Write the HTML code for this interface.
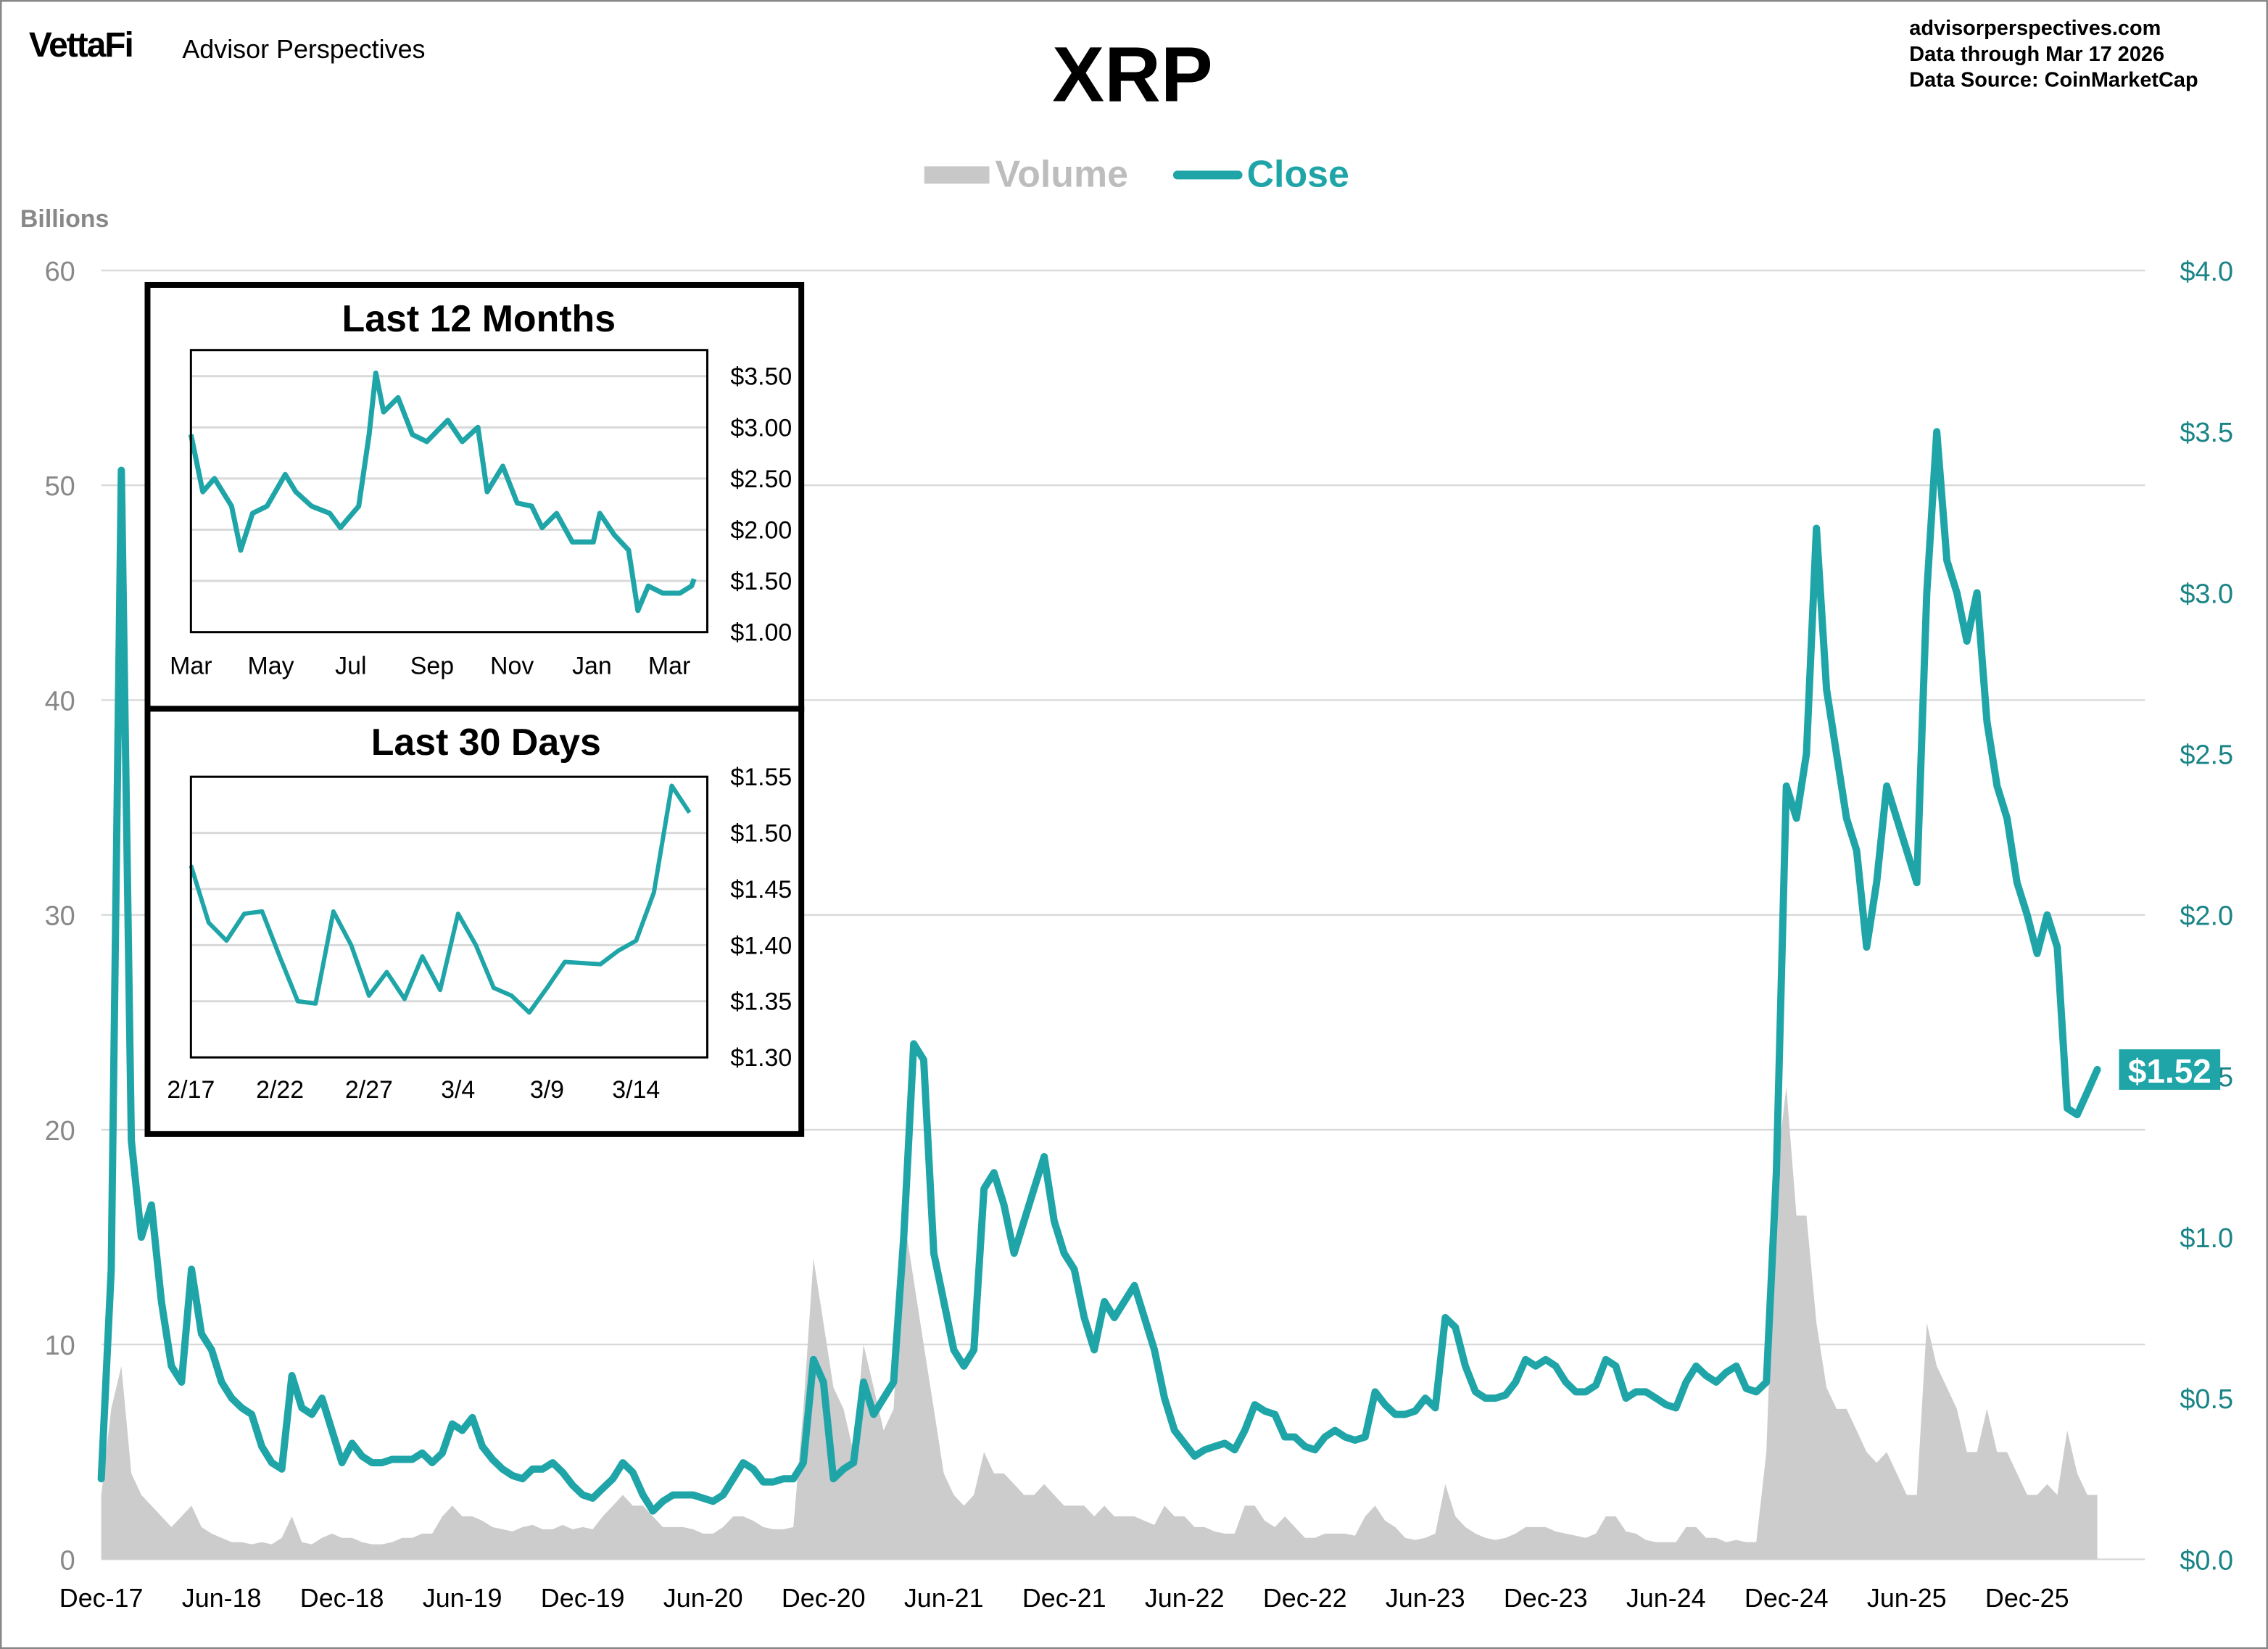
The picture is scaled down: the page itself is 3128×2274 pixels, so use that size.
<!DOCTYPE html>
<html><head><meta charset="utf-8"><style>
html,body{margin:0;padding:0;background:#fff}
svg{display:block;font-family:"Liberation Sans",Arial,sans-serif}
</style></head><body>
<svg id="chart" width="3128" height="2274" viewBox="0 0 1568 1140" preserveAspectRatio="none" xmlns="http://www.w3.org/2000/svg">
<rect x="0.5" y="0.5" width="1567" height="1139" fill="#fff" stroke="#888" stroke-width="1.5"/>
<g>
<text x="20" y="39" font-size="24" font-weight="bold" letter-spacing="-1">VettaFi</text>
<text x="126" y="40" font-size="18">Advisor Perspectives</text>
<text x="783" y="70" font-size="54" font-weight="bold" text-anchor="middle">XRP</text>
<text x="1320" y="24" font-size="14.5" font-weight="bold">advisorperspectives.com</text>
<text x="1320" y="42" font-size="14.5" font-weight="bold">Data through  Mar 17 2026</text>
<text x="1320" y="60" font-size="14.5" font-weight="bold">Data Source:  CoinMarketCap</text>
</g>
<g>
<rect x="639" y="115" width="45" height="12" fill="#c8c8c8"/>
<text x="688" y="129" font-size="26" font-weight="bold" fill="#bdbdbd">Volume</text>
<line x1="814" y1="121" x2="856" y2="121" stroke="#1fa5a8" stroke-width="6" stroke-linecap="round"/>
<text x="862" y="129" font-size="26" font-weight="bold" fill="#1fa5a8">Close</text>
</g>
<text x="14" y="157" font-size="17" font-weight="bold" fill="#888">Billions</text>
<g id="grid"></g><g id="vol"></g><g id="price"></g><g id="axes"></g><g id="insets"></g>
</svg>
<script>
const NS="http://www.w3.org/2000/svg";
const closeHalfMonth=[0.25,0.9,3.38,1.3,1.0,1.1,0.8,0.6,0.55,0.9,0.7,0.65,0.55,0.5,0.47,0.45,0.35,0.3,0.28,0.57,0.47,0.45,0.5,0.4,
0.3,0.36,0.32,0.3,0.3,0.31,0.31,0.31,0.33,0.3,0.33,0.42,0.4,0.44,0.35,0.31,0.28,0.26,0.25,0.28,0.28,0.3,0.27,0.23,
0.2,0.19,0.22,0.25,0.3,0.27,0.2,0.15,0.18,0.2,0.2,0.2,0.19,0.18,0.2,0.25,0.3,0.28,0.24,0.24,0.25,0.25,0.3,0.62,
0.55,0.25,0.28,0.3,0.55,0.45,0.5,0.55,1.0,1.6,1.55,0.95,0.8,0.65,0.6,0.65,1.15,1.2,1.1,0.95,1.05,1.15,1.25,1.05,
0.95,0.9,0.75,0.65,0.8,0.75,0.8,0.85,0.75,0.65,0.5,0.4,0.36,0.32,0.34,0.35,0.36,0.34,0.4,0.48,0.46,0.45,0.38,0.38,
0.35,0.34,0.38,0.4,0.38,0.37,0.38,0.52,0.48,0.45,0.45,0.46,0.5,0.47,0.75,0.72,0.6,0.52,0.5,0.5,0.51,0.55,0.62,0.6,
0.62,0.6,0.55,0.52,0.52,0.54,0.62,0.6,0.5,0.52,0.52,0.5,0.48,0.47,0.55,0.6,0.57,0.55,0.58,0.6,0.53,0.52,0.55,1.2,
2.4,2.3,2.5,3.2,2.7,2.5,2.3,2.2,1.9,2.1,2.4,2.3,2.2,2.1,3.0,3.5,3.1,3.0,2.85,3.0,2.6,2.4,2.3,2.1,
2.0,1.88,2.0,1.9,1.4,1.38,1.45,1.52];
const volumeHalfMonth=[3,7,9,4,3,2.5,2,1.5,2,2.5,1.5,1.2,1,0.8,0.8,0.7,0.8,0.7,1,2,0.8,0.7,1,1.2,
1,1,0.8,0.7,0.7,0.8,1,1,1.2,1.2,2,2.5,2,2,1.8,1.5,1.4,1.3,1.5,1.6,1.4,1.4,1.6,1.4,
1.5,1.4,2,2.5,3,2.5,2.5,2,1.5,1.5,1.5,1.4,1.2,1.2,1.5,2,2,1.8,1.5,1.4,1.4,1.5,7,14,
11,8,7,5,10,8,6,7,16,13,10,7,4,3,2.5,3,5,4,4,3.5,3,3,3.5,3,
2.5,2.5,2.5,2,2.5,2,2,2,1.8,1.6,2.5,2,2,1.5,1.5,1.3,1.2,1.2,2.5,2.5,1.8,1.5,2,1.5,
1,1,1.2,1.2,1.2,1.1,2,2.5,1.8,1.5,1,0.9,1,1.2,3.5,2,1.5,1.2,1,0.9,1,1.2,1.5,1.5,
1.5,1.3,1.2,1.1,1,1.2,2,2,1.3,1.2,0.9,0.8,0.8,0.8,1.5,1.5,1,1,0.8,0.9,0.8,0.8,5,18,
22,16,16,11,8,7,7,6,5,4.5,5,4,3,3,11,9,8,7,5,5,7,5,5,4,
3,3,3.5,3,6,4,3,3];
const leftTicks=[0,10,20,30,40,50,60];
const rightTicks=["$0.0","$0.5","$1.0","$1.5","$2.0","$2.5","$3.0","$3.5","$4.0"];
const rightTickValues=[0,0.5,1,1.5,2,2.5,3,3.5,4];
const xLabels=["Dec-17","Jun-18","Dec-18","Jun-19","Dec-19","Jun-20","Dec-20","Jun-21","Dec-21","Jun-22","Dec-22","Jun-23","Dec-23","Jun-24","Dec-24","Jun-25","Dec-25"];
const lastClose="$1.52";
const yearCloseDays=[0,9,18,31,38,47,58,72,80,92,106,114,128,136,141,147,158,169,180,196,207,219,226,238,249,260,268,279,291,307,312,323,334,341,349,360,373,382,384];
const yearCloseValues=[2.93,2.37,2.5,2.23,1.8,2.16,2.23,2.54,2.37,2.23,2.16,2.02,2.23,2.93,3.53,3.15,3.29,2.93,2.86,3.07,2.86,3.0,2.37,2.62,2.26,2.23,2.02,2.16,1.88,1.88,2.16,1.95,1.8,1.21,1.45,1.38,1.38,1.45,1.52];
const yearTicks=["$1.00","$1.50","$2.00","$2.50","$3.00","$3.50"];
const yearTickValues=[1,1.5,2,2.5,3,3.5];
const yearLabels=["Mar","May","Jul","Sep","Nov","Jan","Mar"];
const yearLabelDays=[0,61,122,184,245,306,365];
const monthCloseValues=[1.471,1.42,1.404,1.428,1.43,1.389,1.35,1.348,1.43,1.40,1.355,1.376,1.352,1.39,1.36,1.428,1.40,1.362,1.355,1.34,1.362,1.385,1.384,1.383,1.395,1.404,1.447,1.542,1.518];
const monthTicks=["$1.30","$1.35","$1.40","$1.45","$1.50","$1.55"];
const monthTickValues=[1.30,1.35,1.40,1.45,1.50,1.55];
const monthLabels=["2/17","2/22","2/27","3/4","3/9","3/14"];
const monthLabelDays=[0,5,10,15,20,25];

function el(tag,attrs,parent){const e=document.createElementNS(NS,tag);for(const k in attrs)e.setAttribute(k,attrs[k]);parent.appendChild(e);return e;}
const X0=70,X1=1450,Y0=1078,Y1=187;
const xS=i=>X0+i*(X1-X0)/(closeHalfMonth.length-1);
const yV=v=>Y0-v*(Y0-Y1)/60;
const yP=p=>Y0-p*(Y0-Y1)/4;
const grid=document.getElementById('grid'),axes=document.getElementById('axes');
leftTicks.forEach((t)=>{
  const l=el('line',{x1:70,x2:1483,y1:yV(t),y2:yV(t),stroke:'#d9d9d9','stroke-width':1.2},grid);
  
  
  const tx=el('text',{x:52,y:yV(t)+7,'font-size':19,fill:'#888','text-anchor':'end'},axes);tx.textContent=t;
  
  
});
rightTickValues.forEach((v,i)=>{
  const tx=el('text',{x:1544,y:yP(v)+7,'font-size':19,fill:'#1a8486','text-anchor':'end'},axes);tx.textContent=rightTicks[i];
  
  
});
xLabels.forEach((lab,i)=>{
  const tx=el('text',{x:xS(i*12),y:1111,'font-size':18,'text-anchor':'middle'},axes);tx.textContent=lab;
  
  
});
let vd='M'+xS(0)+','+Y0;
volumeHalfMonth.forEach((v,i)=>{vd+=' L'+xS(i).toFixed(1)+','+yV(v).toFixed(1);});
vd+=' L'+xS(volumeHalfMonth.length-1)+','+Y0+' Z';
const va=el('path',{d:vd,fill:'#cccccc'},document.getElementById('vol'));


let pd='';closeHalfMonth.forEach((p,i)=>{pd+=(i?' L':'M')+xS(i).toFixed(1)+','+yP(p).toFixed(1);});
const pl=el('path',{d:pd,fill:'none',stroke:'#1fa5a8','stroke-width':5,'stroke-linejoin':'round','stroke-linecap':'round'},document.getElementById('price'));


const lp=closeHalfMonth[closeHalfMonth.length-1];
const lb=el('rect',{x:1465,y:yP(lp)-14,width:70,height:28,fill:'#1fa5a8'},axes);


const lt=el('text',{x:1500,y:yP(lp)+9,'font-size':23,'font-weight':'bold',fill:'#fff','text-anchor':'middle'},axes);lt.textContent=lastClose;



function inset(cfg){
  const g=el('g',{},document.getElementById('insets'));
  
  
  const bx=el('rect',{x:102,y:cfg.by,width:452,height:cfg.bh,fill:'#fff',stroke:'#000','stroke-width':4},g);
  
  
  const tt=el('text',{x:cfg.tx,y:cfg.by+32,'font-size':26,'font-weight':'bold','text-anchor':'middle'},g);tt.textContent=cfg.title;
  
  
  const px0=132,px1=489;
  const yf=v=>cfg.py1-(v-cfg.vmin)*(cfg.py1-cfg.py0)/(cfg.vmax-cfg.vmin);
  const xf=d=>px0+d*(px1-px0)/cfg.dmax;
  cfg.tickValues.forEach((v,i)=>{
    const gl=el('line',{x1:px0,x2:px1,y1:yf(v),y2:yf(v),stroke:'#d9d9d9','stroke-width':1.5},g);
    
    
    const t=el('text',{x:505,y:yf(v)+6,'font-size':17},g);t.textContent=cfg.ticks[i];
    
    
  });
  cfg.labelDays.forEach((d,i)=>{
    const t=el('text',{x:xf(d),y:cfg.ly,'font-size':17,'text-anchor':'middle'},g);t.textContent=cfg.labels[i];
    
    
  });
  let d='';cfg.values.forEach((v,i)=>{d+=(i?' L':'M')+xf(cfg.days[i]).toFixed(1)+','+yf(v).toFixed(1);});
  const ln=el('path',{d:d,fill:'none',stroke:'#1fa5a8','stroke-width':cfg.sw,'stroke-linejoin':'round'},g);
  
  
  const pf=el('rect',{x:px0,y:cfg.py0,width:px1-px0,height:cfg.py1-cfg.py0,fill:'none',stroke:'#000','stroke-width':1.5},g);
  
  
}
inset({name:'inset-last-12-months',by:197,bh:293,tx:331,title:'Last 12 Months',py0:242,py1:437,vmin:1,vmax:3.755,dmax:394,
  tickValues:yearTickValues,ticks:yearTicks,labelDays:yearLabelDays,labels:yearLabels,ly:466,values:yearCloseValues,days:yearCloseDays,sw:3.5});
inset({name:'inset-last-30-days',by:490,bh:294,tx:336,title:'Last 30 Days',py0:537,py1:731,vmin:1.30,vmax:1.55,dmax:29,
  tickValues:monthTickValues,ticks:monthTicks,labelDays:monthLabelDays,labels:monthLabels,ly:759,values:monthCloseValues,days:monthCloseValues.map((v,i)=>i),sw:3});
</script>
</body></html>
